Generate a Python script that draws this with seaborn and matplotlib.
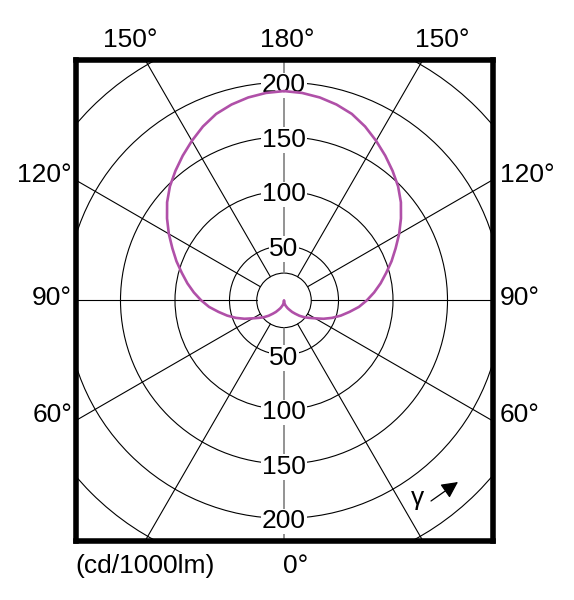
import numpy as np
import pandas as pd
import matplotlib
matplotlib.use('Agg')
import matplotlib.pyplot as plt
from matplotlib.patches import Circle
import seaborn as sns

# luminous intensity distribution (cd/1000lm), gamma 0 = downward
gamma_deg = [0, 5, 10, 15, 20, 25, 30, 35, 40, 45, 50, 55, 60, 65, 70, 75, 80, 85, 90,
             95, 100, 105, 110, 115, 120, 125, 130, 135, 140, 145, 150, 155, 160, 165,
             170, 175, 180]
intensity = [0, 1.5, 3, 4.5, 6, 8, 10, 13, 16, 20, 24, 28, 33, 40, 47, 54, 61, 69, 76,
             83, 90, 97, 105, 113, 122, 131, 140, 148, 155, 162, 169, 176, 182, 186,
             189, 191, 192]

ring_values = [50, 100, 150, 200]
grid_radii = [25, 50, 100, 150, 200, 250]
spoke_angles = [30, 60, 90, 120, 150]

top_labels = ['150°', '180°', '150°']
side_labels = ['120°', '90°', '60°']
bottom_unit = '(cd/1000lm)'
bottom_angle = '0°'

W, H = 574, 600
PX = 1.09  # pixels per cd/1000lm unit

sns.set_theme(style='white')
plt.rcParams['font.family'] = ['Liberation Sans', 'DejaVu Sans']

fig = plt.figure(figsize=(W / 100, H / 100), dpi=100)
left, right, top, bottom = 75.5, 492.5, 59.7, 541.0
cx, cy = 284.0, 300.35
ax = fig.add_axes([left / W, 1 - bottom / H, (right - left) / W, (bottom - top) / H])
ax.set_xlim(-(cx - left) / PX, (right - cx) / PX)
ax.set_ylim(-(bottom - cy) / PX, (cy - top) / PX)
ax.set_xticks([])
ax.set_yticks([])
for s in ax.spines.values():
    s.set_visible(True)
    s.set_color('black')
    s.set_linewidth(4.0)

# grid circles
for r in grid_radii:
    ax.add_patch(Circle((0, 0), r, fill=False, edgecolor='black', lw=0.8, zorder=1))

# spokes from the inner circle outward
r0, r1 = 25, 400
for a in spoke_angles:
    t = np.radians(a)
    for sgn in (-1, 1):
        ax.plot([sgn * r0 * np.sin(t), sgn * r1 * np.sin(t)],
                [-r0 * np.cos(t), -r1 * np.cos(t)], color='black', lw=0.8, zorder=1)
ax.plot([0, 0], [r0, r1], color='#808080', lw=1.2, zorder=1)
ax.plot([0, 0], [-r0, -r1], color='#808080', lw=1.2, zorder=1)

# ring value labels along the vertical axis
off = 10 / PX
for v in ring_values:
    for sgn in (1, -1):
        ax.text(0, sgn * v - off, str(v), ha='center', va='baseline', fontsize=19,
                color='black', zorder=2.5,
                bbox=dict(facecolor='white', edgecolor='none', pad=0.5))

# curve (mirrored left/right)
g = np.radians(gamma_deg)
r = np.array(intensity, dtype=float)
df = pd.DataFrame({
    'x': np.concatenate([(-r * np.sin(g))[::-1], (r * np.sin(g))[1:]]),
    'y': np.concatenate([(-r * np.cos(g))[::-1], (-r * np.cos(g))[1:]]),
})
sns.lineplot(data=df, x='x', y='y', sort=False, estimator=None, ax=ax,
             color='#b050a8', lw=1.9, zorder=3)
ax.set_xlabel('')
ax.set_ylabel('')


def ftext(x, y, s, **kw):
    fig.text(x / W, 1 - y / H, s, fontsize=19, color='black', va='baseline', **kw)


for x, s in zip([103, 260, 415], top_labels):
    ftext(x, 47, s, ha='left')
for y, s in zip([182, 305, 422], side_labels):
    ftext(72, y, s, ha='right')
    ftext(500, y, s, ha='left')
ftext(75, 573, bottom_unit, ha='left')
ftext(283, 573, bottom_angle, ha='left')

# gamma direction marker
ftext(418, 505, 'γ', ha='center')
ax.annotate('', xy=(458 / W, 1 - 482 / H), xytext=(431 / W, 1 - 501 / H),
            xycoords='figure fraction', textcoords='figure fraction',
            arrowprops=dict(arrowstyle='-|>,head_length=0.5,head_width=0.25',
                            mutation_scale=20, color='black', lw=0.9,
                            shrinkA=0, shrinkB=0))

fig.savefig('out.png', dpi=100, facecolor='white')
